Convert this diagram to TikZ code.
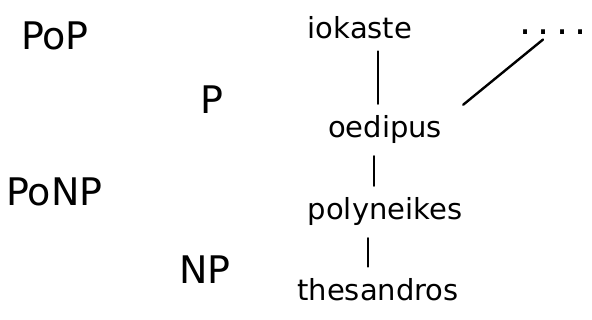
\documentclass[tikz,border=0pt]{standalone}
\usepackage{fontspec}
\setmainfont{DejaVu Sans}
\tikzset{lvl/.style = {font=\fontsize{38}{40}\selectfont},
         person/.style = {font=\fontsize{29}{31}\selectfont, inner sep=3pt},
         link/.style = {line width=2.4pt, line cap=round, shorten >=9pt, shorten <=9pt}}

\begin{document}
\begin{tikzpicture}[x=1pt,y=-1pt]
    \useasboundingbox(0,0)rectangle(592,320);
    \node[lvl](pop)at(55,36){PoP};
    \node[lvl](p)at(212,100){P};
    \node[lvl,anchor=west,inner sep=0pt](ponp)at(6,192){PoNP};
    \node[lvl](np)at(205,270){NP};
    \node[person](iok)at(360,28){iokaste};
    \node[person](oed)at(385,130){oedipus};
    \node[person](pol)at(385,212){polyneikes};
    \node[person](the)at(378,290){thesandros};
    \node[person,font=\fontsize{38}{40}\selectfont](dots)at(553,32){.\,.\,.\,.};
    \draw[link]([xshift=-7pt]oed.north)--([xshift=-7pt]oed.north|-iok.south);
    \draw[link]([xshift=-11pt]pol.north)--([xshift=-11pt]pol.north|-oed.south);
    \draw[link]([xshift=-10pt]the.north)--([xshift=-10pt]the.north|-pol.south);
    \draw[link,shorten >=0pt,shorten <=0pt]([xshift=18pt,yshift=8pt]oed.north east)--([xshift=-10pt,yshift=-2pt]dots.south);
\end{tikzpicture}
\end{document}
